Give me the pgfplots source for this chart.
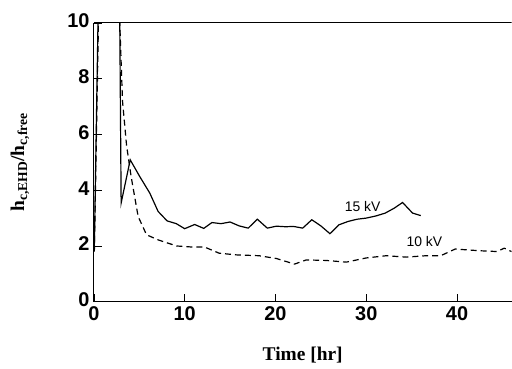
\documentclass[border=0pt]{standalone}
\usepackage{fontspec}
\setmainfont{Liberation Serif}
\setsansfont{Liberation Sans}
\usepackage{pgfplots}
\pgfplotsset{compat=1.18}
\begin{document}
\begin{tikzpicture}
\begin{axis}[
  scale only axis, width=418bp, height=279bp,
  xmin=0, xmax=46, ymin=0, ymax=10,
  axis lines=left, axis line style={-, line width=1pt},
  xtick={0,10,20,30,40}, ytick={0,2,4,6,8,10},
  tick align=inside, major tick length=8bp,
  tick style={line width=0.8pt, black},
  /pgf/number format/assume math mode=true,
  tick label style={font=\sffamily\bfseries\fontsize{20}{20}\selectfont},
  xticklabel style={yshift=-1bp},
  yticklabel style={xshift=-1bp, yshift=2bp},
  xlabel={\textbf{Time [hr]}},
  ylabel={\textbf{h\textsubscript{c,EHD}/h\textsubscript{c,free}}},
  label style={font=\rmfamily\bfseries\fontsize{19.5}{19.5}\selectfont},
  xlabel style={at={(axis description cs:0.5,0)}, anchor=center, yshift=-53bp},
  ylabel style={at={(axis description cs:0,0.5)}, anchor=center, rotate=0, yshift=74bp},
  clip=true,
]
\addplot[black, line width=1.2pt] coordinates {
(0.05,2.0) (0.45,10) (1.5,14) (2.85,10) (3.0,3.54) (4.0,5.09) (5.05,4.49) (6.15,3.9)
(7.07,3.24) (8.06,2.9) (9.08,2.8) (10.0,2.62) (11.1,2.77) (12.1,2.63) (13.0,2.84)
(14.0,2.8) (15.0,2.86) (16.0,2.72) (17.0,2.64) (18.0,2.96) (19.1,2.64) (20.1,2.71)
(21.1,2.69) (22.0,2.7) (23.0,2.64) (24.0,2.94) (25.0,2.72) (26.0,2.44) (27.0,2.76)
(28.0,2.88) (29.0,2.96) (30.0,3.0) (31.1,3.08) (32.1,3.18) (33.1,3.36) (34.0,3.56)
(35.1,3.18) (36.0,3.09)
};
\addplot[black, line width=1.2pt, dash pattern=on 6bp off 4bp] coordinates {
(0.05,1.8) (0.5,10) (1.5,14) (2.85,10) (3.15,7.2) (3.6,5.6) (4.1,4.49) (4.87,3.06)
(5.8,2.4) (7.07,2.22) (9.1,2.0) (10.9,1.96) (12.2,1.96) (13.8,1.74) (15.7,1.68)
(18.2,1.65) (20.1,1.55) (22.1,1.35) (23.4,1.5) (25.6,1.48) (27.8,1.42) (30.0,1.57)
(32.2,1.65) (34.4,1.6) (36.6,1.65) (38.2,1.65) (39.8,1.89) (42.4,1.83) (44.4,1.8)
(45.2,1.92) (46,1.8)
};
\draw[line width=1pt] (rel axis cs:0,1) -- (rel axis cs:1,1);
\node[font=\sffamily\fontsize{14}{14}\selectfont] at (axis cs:29.6,3.42) {15 kV};
\node[font=\sffamily\fontsize{14}{14}\selectfont] at (axis cs:36.4,2.16) {10 kV};
\node[font=\sffamily\fontsize{7.5}{7.5}\selectfont, anchor=south east] at (rel axis cs:0.995,1.005) {small};
\end{axis}
\useasboundingbox (current axis.south west) ++(-94bp,-67bp) rectangle ([yshift=23bp]current axis.north east);
\end{tikzpicture}
\end{document}
